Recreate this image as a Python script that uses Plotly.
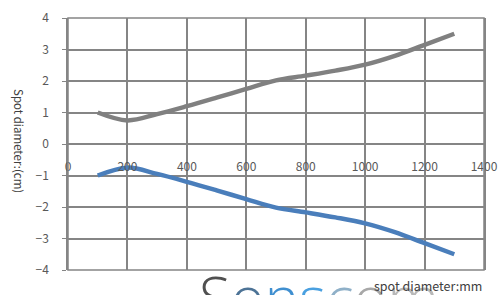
import plotly.graph_objects as go

x_vals = [100, 200, 300, 400, 500, 600, 700, 800, 900, 1000, 1100, 1200, 1300]
upper = [1.0, 0.75, 0.95, 1.2, 1.47, 1.75, 2.02, 2.17, 2.33, 2.52, 2.8, 3.15, 3.5]
lower = [-1.0, -0.75, -0.95, -1.2, -1.47, -1.75, -2.02, -2.17, -2.33, -2.52, -2.8, -3.15, -3.5]
x_ticks = [0, 200, 400, 600, 800, 1000, 1200, 1400]
y_ticks = [-4, -3, -2, -1, 0, 1, 2, 3, 4]

GRID = "#858585"
FONT = "Noto Sans CJK SC"

watermark = ("<span style='color:#505050'>S</span>"
             "<span style='color:#4d7396'>o</span>"
             "<span style='color:#3f8fd0'>n</span>"
             "<span style='color:#4aa0e0'>s</span>"
             "<span style='color:#8fb0c8'>c</span>"
             "<span style='color:#a8a8a8'>o</span>"
             "<span style='color:#b8b8b8'>m</span>")

fig = go.Figure()
fig.add_trace(go.Scatter(x=x_vals, y=upper, mode="lines", line=dict(color="#808080", width=4.5, shape="spline"), showlegend=False))
fig.add_trace(go.Scatter(x=x_vals, y=lower, mode="lines", line=dict(color="#4a7ebb", width=4.5, shape="spline"), showlegend=False))

fig.update_layout(
    width=498, height=295,
    margin=dict(l=68, r=14, t=18, b=25, autoexpand=False),
    paper_bgcolor="white", plot_bgcolor="white",
    font=dict(family=FONT, size=12, color="#595959"),
    xaxis=dict(range=[0, 1400], tickvals=x_ticks, showgrid=True, gridcolor=GRID, gridwidth=1.5,
               zeroline=False, showline=False, anchor="free", position=0.5, automargin=False,
               ticks="", ticklabelstandoff=14, tickfont=dict(size=12, color="#595959")),
    yaxis=dict(range=[-4, 4], tickvals=y_ticks, showgrid=True, gridcolor=GRID, gridwidth=1.5,
               zeroline=False, showline=True, linecolor=GRID, linewidth=1.5, mirror=True, automargin=False,
               ticks="outside", ticklen=4, tickcolor=GRID, ticklabelstandoff=11,
               tickfont=dict(size=12, color="#595959")),
    shapes=[dict(type="rect", xref="paper", yref="paper", x0=0, x1=1, y0=0, y1=1,
                 line=dict(color=GRID, width=1.5), layer="above")],
    annotations=[
        dict(text=watermark, xref="paper", yref="paper", x=0.31, y=-0.107, xanchor="left", yanchor="middle",
             showarrow=False, font=dict(family="Open Sans", size=58, weight=300)),
        dict(text="Spot diameter:(cm)", xref="paper", yref="paper", x=-0.118, y=0.512, textangle=90,
             xanchor="center", yanchor="middle",
             showarrow=False, font=dict(family=FONT, size=11.5, color="#404040")),
        dict(text="spot diameter:mm", xref="paper", yref="paper", x=0.865, y=-0.06,
             xanchor="center", yanchor="middle",
             showarrow=False, font=dict(family=FONT, size=12.5, color="#404040")),
    ],
)

fig.write_html("out.html", post_script="document.body.style.margin='0';",
               config={"displayModeBar": False})
